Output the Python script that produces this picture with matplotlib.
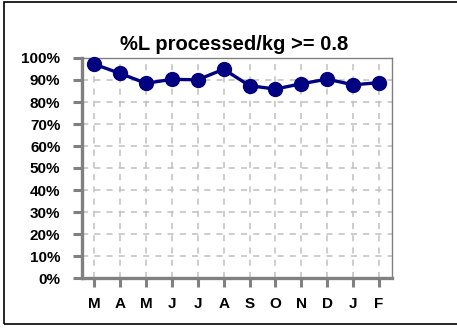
import matplotlib
matplotlib.use("Agg")
import matplotlib.pyplot as plt
from matplotlib.patches import Rectangle

months = ["M", "A", "M", "J", "J", "A", "S", "O", "N", "D", "J", "F"]
values = [97.2, 93.0, 88.5, 90.3, 90.1, 94.9, 87.4, 85.9, 88.3, 90.4, 87.8, 88.8]
y_ticks = [0, 10, 20, 30, 40, 50, 60, 70, 80, 90, 100]
title = "%L processed/kg >= 0.8"

plt.rcParams['font.family'] = ['Liberation Sans', 'DejaVu Sans']

W, H = 457, 328
fig = plt.figure(figsize=(W / 100, H / 100), dpi=100)
ax = fig.add_axes([82 / W, 1 - 278 / H, (392 - 82) / W, (278 - 58) / H])

x = list(range(len(months)))
ax.plot(x, values, color="#000080", lw=2.4, marker="o", ms=10,
        markerfacecolor="#000080", markeredgecolor="#000080", zorder=5, clip_on=False)

ax.set_xlim(-0.47, 11.5)
ax.set_ylim(0, 100)
ax.set_xticks(x)
ax.set_xticklabels(months, fontsize=11, fontweight="bold")
ax.set_yticks(y_ticks)
ax.set_yticklabels([f"{v}%" for v in y_ticks], fontsize=11, fontweight="bold")
ax.tick_params(axis="y", length=6.5, width=2.2, color="#808080", pad=9)
ax.tick_params(axis="x", length=6.5, width=2.2, color="#808080", pad=7)

ax.grid(True, color="#c0c0c0", lw=1.1, linestyle=(0, (4, 4)))
ax.set_axisbelow(True)

for side in ["left", "bottom"]:
    ax.spines[side].set_color("#808080")
    ax.spines[side].set_linewidth(2.4)
for side in ["top", "right"]:
    ax.spines[side].set_color("#808080")
    ax.spines[side].set_linewidth(1.0)

fig.text(234.5 / W, 1 - 45 / H, title, ha="center", va="center",
         fontsize=14.5, fontweight="bold")

fig.patches.append(Rectangle((3.5 / W, 1 - 324 / H), 1.0, (324 - 2) / H,
                             transform=fig.transFigure, fill=False,
                             edgecolor="black", lw=1.2))

fig.savefig("out.png", dpi=100)
